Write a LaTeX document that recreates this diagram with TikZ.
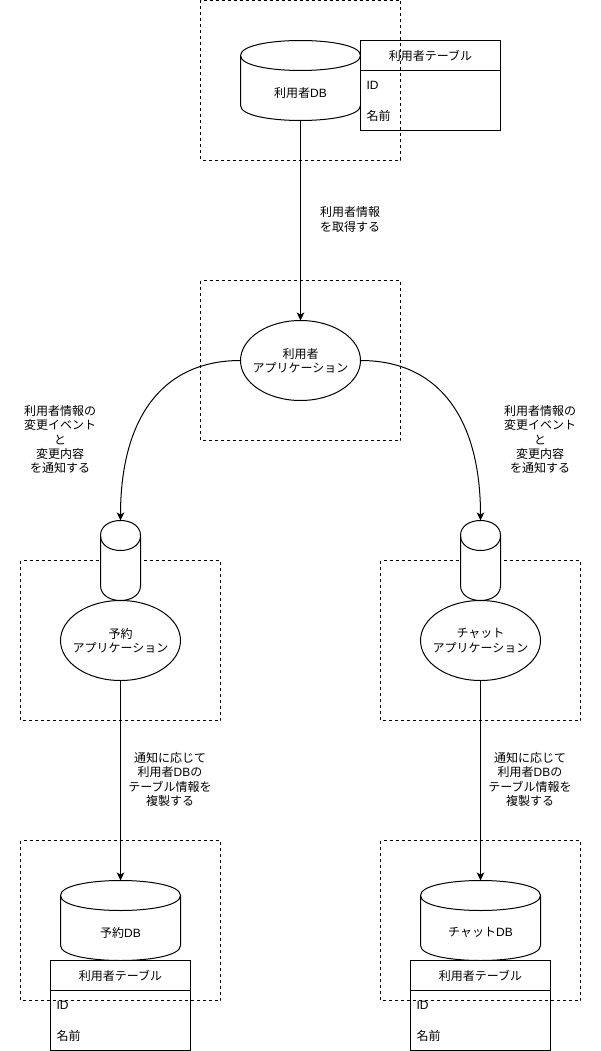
\documentclass[tikz,border=0pt]{standalone}
\usepackage{fontspec}
\setmainfont{Liberation Sans}
\newfontfamily\jp{Noto Sans CJK JP}
\usetikzlibrary{shapes.geometric,arrows.meta}
\newcommand{\J}[1]{{\jp #1}}
\newcommand{\W}[1]{\makebox[0pt][c]{\J{#1}}}
\tikzset{
  pen/.style={draw=black,line width=1pt},
  zone/.style={draw=black,line width=1pt,dash pattern=on 3pt off 3pt},
  app/.style={ellipse,pen,fill=white,minimum width=120pt,minimum height=80pt,inner sep=0pt,outer sep=0pt,align=center,font=\fontsize{12}{14.4}\selectfont},
  lbl/.style={inner sep=0pt,outer sep=0pt,align=center,text=black,font=\fontsize{12}{14.4}\selectfont},
  cell/.style={inner sep=0pt,outer sep=0pt,anchor=west,text=black,font=\fontsize{12}{14.4}\selectfont},
  slot/.style={rectangle,inner sep=0pt,outer sep=0pt},
  flow/.style={pen,-{Stealth[length=8pt,width=7.5pt,inset=2pt]}}
}
% name, left x, top y, width, height
\newcommand{\dbcyl}[5]{%
  \filldraw[pen,fill=white] (#2,#3+15)
    .. controls (#2,#3-5) and (#2+#4,#3-5) .. (#2+#4,#3+15)
    -- (#2+#4,#3+#5-15)
    .. controls (#2+#4,#3+#5+5) and (#2,#3+#5+5) .. (#2,#3+#5-15) -- cycle;
  \draw[pen] (#2,#3+15) .. controls (#2,#3+35) and (#2+#4,#3+35) .. (#2+#4,#3+15);
  \node[slot,minimum width=#4 pt,minimum height=#5 pt] (#1) at (#2+#4/2,#3+#5/2) {};
}
% name, left x, top y
\newcommand{\usrtable}[3]{%
  \filldraw[pen,fill=white] (#2,#3) rectangle (#2+140,#3+90);
  \draw[pen] (#2,#3+30) -- (#2+140,#3+30);
  \node[lbl] (#1title) at (#2+70,#3+15) {\J{利用者テーブル}};
  \node[cell] (#1id) at (#2+6,#3+45) {ID};
  \node[cell] (#1name) at (#2+6,#3+75) {\J{名前}};
}
\begin{document}
\begin{tikzpicture}[x=1pt,y=-1pt]
\useasboundingbox (0,0) rectangle (601,1051);
\fill[white] (0,0) rectangle (601,1051);

% zones behind the shapes
\draw[zone] (200.5,280.5) rectangle (400.5,440.5);
\draw[zone] (20.5,560.5) rectangle (220.5,720.5);
\draw[zone] (380.5,560.5) rectangle (580.5,720.5);

% user DB
\dbcyl{usrdb}{240.5}{40.5}{120}{80}
\node[lbl] (usrdbt) at (300.5,92.5) {\J{利用者}DB};
\usrtable{ut}{360.5}{40.5}
\draw[zone] (200.5,0.5) rectangle (400.5,160.5);

% applications
\node[app] (usrapp) at (300.5,360.5) {\W{利用者}\\\W{アプリケーション}};
\dbcyl{rsvq}{100.5}{520.5}{40}{80}
\dbcyl{chtq}{460.5}{520.5}{40}{80}
\node[app] (rsvapp) at (120.5,640.5) {\W{予約}\\\W{アプリケーション}};
\node[app] (chtapp) at (480.5,640.5) {\W{チャット}\\\W{アプリケーション}};

% bottom DBs
\dbcyl{rsvdb}{60.5}{880.5}{120}{80}
\node[lbl] (rsvdbt) at (120.5,932.5) {\J{予約}DB};
\usrtable{rt}{50.5}{960.5}
\draw[zone] (20.5,840.5) rectangle (220.5,1000.5);
\dbcyl{chtdb}{420.5}{880.5}{120}{80}
\node[lbl] (chtdbt) at (480.5,932.5) {\J{チャット}DB};
\usrtable{ct}{410.5}{960.5}
\draw[zone] (380.5,840.5) rectangle (580.5,1000.5);

% connectors
\draw[flow] (usrdb.south) -- (usrapp.north);
\draw[flow] (usrapp.west) .. controls (160.5,360.5) and (120.5,420.5) .. (rsvq.north);
\draw[flow] (usrapp.east) .. controls (440.5,360.5) and (480.5,420.5) .. (chtq.north);
\draw[flow] (rsvapp.south) -- (rsvdb.north);
\draw[flow] (chtapp.south) -- (chtdb.north);

% labels
\node[lbl] (l1) at (350,219.5) {\J{利用者情報}\\\J{を取得する}};
\node[lbl] (l2) at (60,439.5) {\J{利用者情報の}\\\J{変更イベント}\\\J{と}\\\J{変更内容}\\\J{を通知する}};
\node[lbl] (l3) at (540,439.5) {\J{利用者情報の}\\\J{変更イベント}\\\J{と}\\\J{変更内容}\\\J{を通知する}};
\node[lbl] (l4) at (170,779.5) {\J{通知に応じて}\\\J{利用者}DB\J{の}\\\J{テーブル情報を}\\\J{複製する}};
\node[lbl] (l5) at (530,779.5) {\J{通知に応じて}\\\J{利用者}DB\J{の}\\\J{テーブル情報を}\\\J{複製する}};
\end{tikzpicture}
\end{document}
